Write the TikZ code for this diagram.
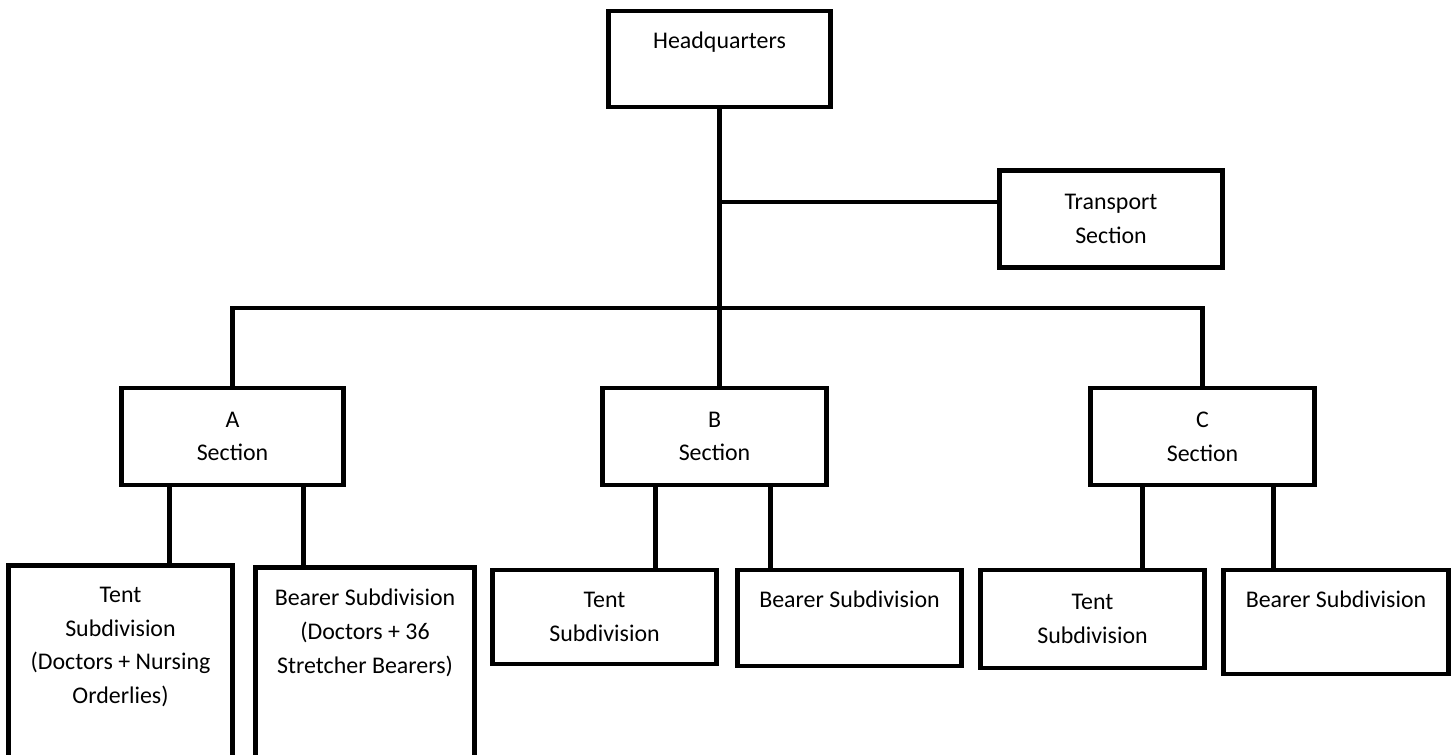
\documentclass[tikz,border=0pt]{standalone}
\usepackage{fontspec}
\setmainfont{Carlito}
\usetikzlibrary{calc}

\tikzset{
  box/.style={draw, line width=1.4pt, inner sep=0pt, align=center},
  toptext/.style={anchor=north, inner sep=0pt, yshift=-6.5pt, align=center},
  link/.style={line width=1.2pt},
}

\begin{document}
\begin{tikzpicture}[x=0.01cm, y=-0.01cm, font=\fontsize{6.8}{9.6}\selectfont] % Feldlazarett
	\useasboundingbox (0,0) rectangle (1455,755);
	\clip (0,0) rectangle (1455,755);

	\node[box, minimum width=2.21cm, minimum height=0.96cm, label={[toptext]north:Headquarters}] (hq) at (719.5,59) {};
	\node[box, minimum width=2.22cm, minimum height=0.97cm] (tr) at (1111,219) {Transport\\Section};

	\node[box, minimum width=2.21cm, minimum height=0.97cm] (sa) at (232.5,436.5) {A\\Section};
	\node[box, minimum width=2.23cm, minimum height=0.97cm] (sb) at (714.5,436.5) {B\\Section};
	\node[box, minimum width=2.23cm, minimum height=0.97cm] (sc) at (1202.5,436.5) {C\\Section};

	\node[box, minimum width=2.23cm, minimum height=2.14cm, label={[toptext]north:Tent\\Subdivision\\(Doctors + Nursing\\Orderlies)}] (ta) at (120.5,673) {};
	\node[box, minimum width=2.18cm, minimum height=2.12cm, label={[toptext]north:Bearer Subdivision\\(Doctors + 36\\Stretcher Bearers)}] (ba) at (365,674) {};
	\node[box, minimum width=2.23cm, minimum height=0.94cm] (tb) at (604.5,617) {Tent\\Subdivision};
	\node[box, minimum width=2.23cm, minimum height=0.96cm, label={[toptext]north:Bearer Subdivision}] (bb) at (849.5,618) {};
	\node[box, minimum width=2.23cm, minimum height=0.98cm] (tc) at (1092.5,619) {Tent\\Subdivision};
	\node[box, minimum width=2.24cm, minimum height=1.04cm, label={[toptext]north:Bearer Subdivision}] (bc) at (1336,622) {};

	\coordinate (bus) at (0,308);
	\coordinate (tl) at ($(tr.north west)!.33!(tr.south west)$);

	\draw[link] (hq.south) -- (hq.south |- sb.north);
	\draw[link] (hq.south |- tl) -- (tl);
	\draw[link] (sa.north) |- (hq.south |- bus) -| (sc.north);
	\foreach \sec/\sub/\dx in {sa/ta/50, sa/ba/184, sb/tb/55, sb/bb/170, sc/tc/54, sc/bc/185}
		\draw[link] (\sec.south west) ++(\dx,0) coordinate (d) -- (d |- \sub.north);
\end{tikzpicture}
\end{document}
